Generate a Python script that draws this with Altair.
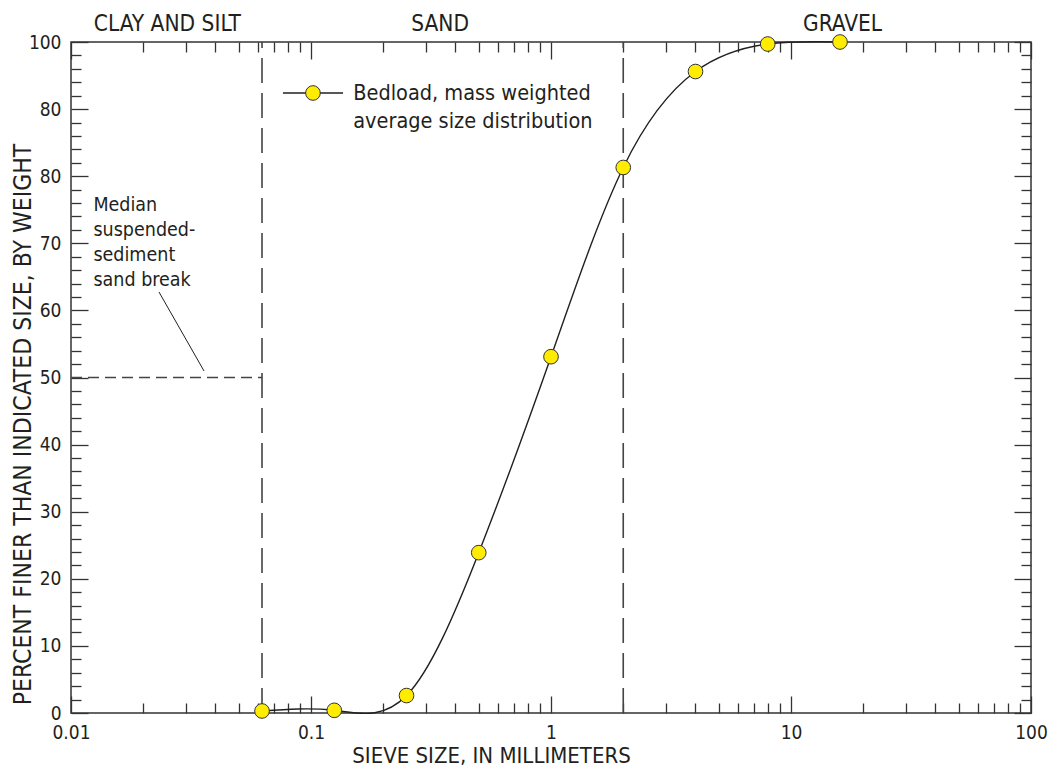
import altair as alt
import pandas as pd

# Bedload size distribution: sieve size (mm) vs. cumulative percent finer
sieve_mm = [0.0625, 0.125, 0.25, 0.5, 1, 2, 4, 8, 16]
pct_finer = [0.3, 0.4, 2.6, 23.9, 53.1, 81.3, 95.6, 99.7, 100.0]

# Size classes written across the top of the plot
class_names = ["CLAY AND SILT", "SAND", "GRAVEL"]
class_label_mm = [0.0252, 0.345, 16.4]

# Class boundaries (mm) and the median suspended-sediment sand break (%)
class_bounds_mm = [0.0625, 2]
median_break_pct = 50

# Tick values
major_x = [0.01, 0.1, 1, 10, 100]
minor_x = [m * d for d in [0.01, 0.1, 1, 10] for m in range(2, 10)]
major_y = list(range(0, 101, 10))
minor_y = [v for v in range(0, 101, 2) if v % 10]

FONT = "Liberation Sans Narrow, Arial Narrow, DejaVu Sans Condensed, sans-serif"
INK = "#231f20"
FRAME = "#333333"
YELLOW = "#ffec00"

W, H = 960, 671
xs = alt.Scale(type="log", domain=[0.01, 100])
ys = alt.Scale(domain=[0, 100], nice=False, zero=True)


def tick_axis(orient, values, size, **extra):
    """Axis drawing inward ticks only: pulled inside the frame by its tick length."""
    opts = dict(
        orient=orient, values=values, tickSize=size, offset=-size,
        domain=False, grid=False, labels=False, title=None,
        tickColor=FRAME, tickWidth=1.3,
    )
    opts.update(extra)
    return alt.Axis(**opts)


bottom_major = tick_axis(
    "bottom", major_x, 17, labels=True, format="~g", labelFlush=False,
    labelOverlap=False,
    labelFont=FONT, labelFontSize=19, labelColor=INK, labelPadding=10,
    title="SIEVE SIZE, IN MILLIMETERS", titleFont=FONT, titleFontSize=22,
    titleFontWeight="normal", titleColor=INK, titleX=420, titleY=66,
    titleBaseline="alphabetic", titleAlign="center",
)
bottom_minor = tick_axis("bottom", minor_x, 10)
top_major = tick_axis("top", major_x, 17)
top_minor = tick_axis("top", minor_x, 10)

left_major = tick_axis(
    "left", major_y, 17, labels=True, format="d", labelFlush=False,
    labelOverlap=False,
    labelExpr="datum.value == 90 ? '80' : datum.label",
    labelFont=FONT, labelFontSize=19, labelColor=INK, labelPadding=10,
    title="PERCENT FINER THAN INDICATED SIZE, BY WEIGHT", titleFont=FONT,
    titleFontSize=24.5, titleFontWeight="normal", titleColor=INK,
    titleX=-58, titleY=382, titleBaseline="alphabetic", titleAlign="center",
    titleAngle=270,
)
left_minor = tick_axis("left", minor_y, 10)
right_major = tick_axis("right", major_y, 17)
right_minor = tick_axis("right", minor_y, 10)

dist = pd.DataFrame({"mm": sieve_mm, "pct": pct_finer})

curve = alt.Chart(dist).mark_line(
    interpolate="natural", color=INK, strokeWidth=1.4
).encode(
    x=alt.X("mm:Q", scale=xs, axis=bottom_major),
    y=alt.Y("pct:Q", scale=ys, axis=left_major),
)

points = alt.Chart(dist).mark_circle(
    size=215, color=YELLOW, opacity=1, stroke=FRAME, strokeWidth=1
).encode(
    x=alt.X("mm:Q", scale=xs, axis=bottom_minor),
    y=alt.Y("pct:Q", scale=ys, axis=left_minor),
)

bounds = pd.DataFrame({"mm": class_bounds_mm, "lo": [0, 0], "hi": [100, 100]})
bound_lines = alt.Chart(bounds).mark_rule(
    color="#444444", strokeWidth=1.6, strokeDash=[25, 10]
).encode(
    x=alt.X("mm:Q", scale=xs, axis=top_major),
    y=alt.Y("lo:Q", scale=ys, axis=right_major),
    y2="hi:Q",
)

median = pd.DataFrame({"x0": [0.01], "x1": [class_bounds_mm[0]], "y": [median_break_pct]})
median_line = alt.Chart(median).mark_rule(
    color="#444444", strokeWidth=1.6, strokeDash=[11, 6]
).encode(
    x=alt.X("x0:Q", scale=xs, axis=top_minor),
    x2="x1:Q",
    y=alt.Y("y:Q", scale=ys, axis=right_minor),
)

# Leader from the note to the 50-percent break line
leader = pd.DataFrame({"x0": [0.02326], "y0": [62.74], "x1": [0.03583], "y1": [50.97]})
leader_line = alt.Chart(leader).mark_rule(color=INK, strokeWidth=1).encode(
    x=alt.X("x0:Q", scale=xs, axis=None),
    y=alt.Y("y0:Q", scale=ys, axis=None),
    x2="x1:Q",
    y2="y1:Q",
)

note_lines = ["Median", "suspended-", "sediment", "sand break"]
note = pd.DataFrame({"t": note_lines, "x": [0.0124] * 4, "y": [74.86, 71.12, 67.38, 63.64]})
note_text = alt.Chart(note).mark_text(
    font=FONT, fontSize=19.5, color=INK, align="left", baseline="alphabetic"
).encode(
    x=alt.X("x:Q", scale=xs, axis=None),
    y=alt.Y("y:Q", scale=ys, axis=None),
    text="t:N",
)

classes = pd.DataFrame({"t": class_names, "x": class_label_mm, "y": [101.6] * 3})
class_text = alt.Chart(classes).mark_text(
    font=FONT, fontSize=22.5, color=INK, align="center", baseline="alphabetic"
).encode(
    x=alt.X("x:Q", scale=xs, axis=None),
    y=alt.Y("y:Q", scale=ys, axis=None),
    text="t:N",
)

# Legend: line-and-marker key with a two-line label
key_line = pd.DataFrame({"x0": [0.0764], "x1": [0.1360], "y": [92.4]})
key_rule = alt.Chart(key_line).mark_rule(color=INK, strokeWidth=1.4).encode(
    x=alt.X("x0:Q", scale=xs, axis=None),
    x2="x1:Q",
    y=alt.Y("y:Q", scale=ys, axis=None),
)
key_dot = alt.Chart(pd.DataFrame({"x": [0.1019], "y": [92.4]})).mark_circle(
    size=215, color=YELLOW, opacity=1, stroke=FRAME, strokeWidth=1
).encode(
    x=alt.X("x:Q", scale=xs, axis=None),
    y=alt.Y("y:Q", scale=ys, axis=None),
)
key_label = pd.DataFrame({
    "t": ["Bedload, mass weighted", "average size distribution"],
    "x": [0.150, 0.150],
    "y": [91.4, 87.23],
})
key_text = alt.Chart(key_label).mark_text(
    font=FONT, fontSize=21.5, color=INK, align="left", baseline="alphabetic"
).encode(
    x=alt.X("x:Q", scale=xs, axis=None),
    y=alt.Y("y:Q", scale=ys, axis=None),
    text="t:N",
)

chart = alt.layer(
    bound_lines, median_line, leader_line, curve, points,
    note_text, class_text, key_rule, key_dot, key_text,
).resolve_axis(
    x="independent", y="independent"
).properties(
    width=W, height=H,
    autosize="none",
    padding={"left": 71, "top": 42, "right": 21, "bottom": 53},
    background="white",
).configure_view(
    stroke=FRAME, strokeWidth=1.5
)

chart.save("out.html", embed_options={"renderer": "svg", "actions": False})
